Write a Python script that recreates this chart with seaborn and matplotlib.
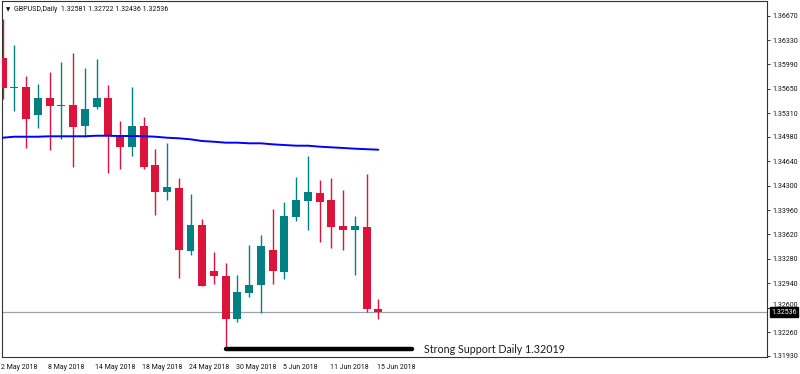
import numpy as np
import pandas as pd
import seaborn as sns
import matplotlib.pyplot as plt
import matplotlib.transforms as mtransforms

# GBPUSD daily candles, 2 May 2018 .. 15 Jun 2018
DATES = ["2 May", "3 May", "4 May", "7 May", "8 May", "9 May", "10 May", "11 May",
         "14 May", "15 May", "16 May", "17 May", "18 May", "21 May", "22 May", "23 May",
         "24 May", "25 May", "28 May", "29 May", "30 May", "31 May", "1 Jun", "4 Jun",
         "5 Jun", "6 Jun", "7 Jun", "8 Jun", "11 Jun", "12 Jun", "13 Jun", "14 Jun", "15 Jun"]
OPENS = [1.36076, 1.35669, 1.35680, 1.35286, 1.35518, 1.35418, 1.35425, 1.35132,
         1.35397, 1.35527, 1.35003, 1.34835, 1.35132, 1.34584, 1.34212, 1.34268,
         1.33390, 1.33748, 1.33111, 1.33041, 1.32446, 1.32804, 1.32920, 1.33408,
         1.33101, 1.33868, 1.34087, 1.34198, 1.34097, 1.33738, 1.33682, 1.33724, 1.32581]
HIGHS = [1.36631, 1.36262, 1.35829, 1.35718, 1.35885, 1.36029, 1.36154, 1.35937,
         1.36071, 1.35704, 1.35202, 1.35676, 1.35258, 1.34812, 1.34895, 1.34412,
         1.34184, 1.33836, 1.33376, 1.33222, 1.33059, 1.33473, 1.33613, 1.33975,
         1.34077, 1.34421, 1.34714, 1.34380, 1.34403, 1.34240, 1.33878, 1.34463, 1.32722]
LOWS = [1.35505, 1.35341, 1.34830, 1.35109, 1.34802, 1.34947, 1.34565, 1.34983,
        1.35365, 1.34481, 1.34529, 1.34718, 1.34529, 1.33896, 1.34101, 1.33009,
        1.33334, 1.32902, 1.32930, 1.32040, 1.32400, 1.32753, 1.32521, 1.32930,
        1.33004, 1.33812, 1.33682, 1.33519, 1.33427, 1.33404, 1.33055, 1.32543, 1.32436]
CLOSES = [1.35666, 1.35676, 1.35234, 1.35518, 1.35415, 1.35425, 1.35123, 1.35365,
          1.35527, 1.34997, 1.34835, 1.35132, 1.34557, 1.34212, 1.34282, 1.33404,
          1.33748, 1.32906, 1.33041, 1.32438, 1.32814, 1.32916, 1.33459, 1.33115,
          1.33878, 1.34101, 1.34208, 1.34077, 1.33724, 1.33682, 1.33738, 1.32575, 1.32536]
# moving average (blue line)
MA = [1.34969, 1.34983, 1.34983, 1.34983, 1.34989, 1.34989, 1.34989, 1.34989,
      1.34997, 1.34996, 1.34993, 1.34993, 1.34990, 1.34983, 1.34969, 1.34961,
      1.34947, 1.34923, 1.34913, 1.34900, 1.34900, 1.34891, 1.34891, 1.34877,
      1.34867, 1.34858, 1.34858, 1.34844, 1.34835, 1.34826, 1.34816, 1.34809, 1.34802]

Y_TICKS = [1.36670, 1.36330, 1.35990, 1.35650, 1.35310, 1.34980, 1.34640, 1.34300,
           1.33960, 1.33620, 1.33280, 1.32940, 1.32600, 1.32260, 1.31930]
X_LABEL_IDX = [0, 4, 8, 12, 16, 20, 24, 28, 32]
X_LABELS = ["2 May 2018", "8 May 2018", "14 May 2018", "18 May 2018", "24 May 2018",
            "30 May 2018", "5 Jun 2018", "11 Jun 2018", "15 Jun 2018"]

TITLE = "GBPUSD,Daily  1.32581 1.32722 1.32436 1.32536"
LAST_PRICE = 1.32536
SUPPORT = 1.32019
SUPPORT_START, SUPPORT_END = 19, 34.9
SUPPORT_TEXT = "Strong Support Daily 1.32019"

UP = "#008080"
DOWN = "#DC143C"


def main():
    sns.set_style("white")
    plt.rcParams['font.family'] = ['Roboto', 'DejaVu Sans']

    df = pd.DataFrame({"date": DATES, "open": OPENS, "high": HIGHS,
                       "low": LOWS, "close": CLOSES, "ma": MA})
    df["idx"] = np.arange(len(df))
    df["color"] = np.where(df["close"] >= df["open"], UP, DOWN)
    df["body_lo"] = df[["open", "close"]].min(axis=1)
    df["body_h"] = (df["close"] - df["open"]).abs().clip(lower=0.00013)

    fig = plt.figure(figsize=(8, 3.74), dpi=100)
    ax = fig.add_axes([1.7 / 800, 1 - 357.3 / 374, (767 - 1.7) / 800, (357.3 - 1.5) / 374])

    # wicks and bodies
    ax.vlines(df["idx"], df["low"], df["high"], colors=df["color"], linewidth=1.0, zorder=2)
    ax.bar(df["idx"], df["body_h"], bottom=df["body_lo"], width=0.68,
           color=df["color"], linewidth=0, zorder=3)

    # moving average
    sns.lineplot(data=df, x="idx", y="ma", color="#0000FF", linewidth=1.4, ax=ax, zorder=4)

    # bid line
    ax.axhline(LAST_PRICE, color="#9aa3ab", linewidth=0.9, zorder=1)

    # support line + label
    ax.plot([SUPPORT_START, SUPPORT_END], [SUPPORT, SUPPORT], color="black",
            linewidth=3.2, solid_capstyle="round", zorder=5)
    ax.text(SUPPORT_END + 1.0, SUPPORT, SUPPORT_TEXT, fontsize=7.7, family="Lato",
            color="#1a1a1a", va="center", ha="left")

    ax.set_xlim(-0.08, 65.1)
    ax.set_ylim(1.31908, 1.36868)

    # axes cosmetics
    ax.yaxis.tick_right()
    ax.set_yticks(Y_TICKS)
    ax.set_yticklabels([f"{v:.5f}" for v in Y_TICKS], fontsize=5, color="#111111")
    ax.set_xticks(X_LABEL_IDX)
    ax.set_xticklabels(X_LABELS, fontsize=5, color="#111111", ha="left")
    ax.tick_params(axis="both", direction="out", length=2.5, width=0.7, pad=1.5,
                   color="#333333")
    ax.tick_params(axis="x", pad=2)
    offset = mtransforms.ScaledTranslation(-1 / 72, 0, fig.dpi_scale_trans)
    for lbl in ax.get_xticklabels():
        lbl.set_transform(lbl.get_transform() + offset)
    # the 1.32600 label sits just above the last-price box, as in the terminal
    up = mtransforms.ScaledTranslation(0, 2 / 72, fig.dpi_scale_trans)
    for lbl in ax.get_yticklabels():
        if lbl.get_text() == "1.32600":
            lbl.set_transform(lbl.get_transform() + up)
    ax.set_xlabel("")
    ax.set_ylabel("")
    for s in ax.spines.values():
        s.set_color("#333333")
        s.set_linewidth(0.8)
    ax.grid(False)

    # last price box on the right axis
    trans = mtransforms.blended_transform_factory(ax.transAxes, ax.transData)
    ax.text(1.0 + 4 / 765, LAST_PRICE, f"{LAST_PRICE:.5f}", transform=trans, fontsize=5,
            color="white", va="center", ha="left", zorder=10, clip_on=False,
            bbox=dict(boxstyle="square,pad=0.2", facecolor="black", edgecolor="black"))

    # title row
    ax.text(4 / 765, 0.978, "\u25BC", transform=ax.transAxes, fontsize=4,
            family="DejaVu Sans", color="#111111", va="center", ha="left")
    ax.text(12 / 765, 0.978, TITLE, transform=ax.transAxes, fontsize=5,
            color="#111111", va="center", ha="left")

    fig.savefig("out.png", dpi=100)


if __name__ == "__main__":
    main()
